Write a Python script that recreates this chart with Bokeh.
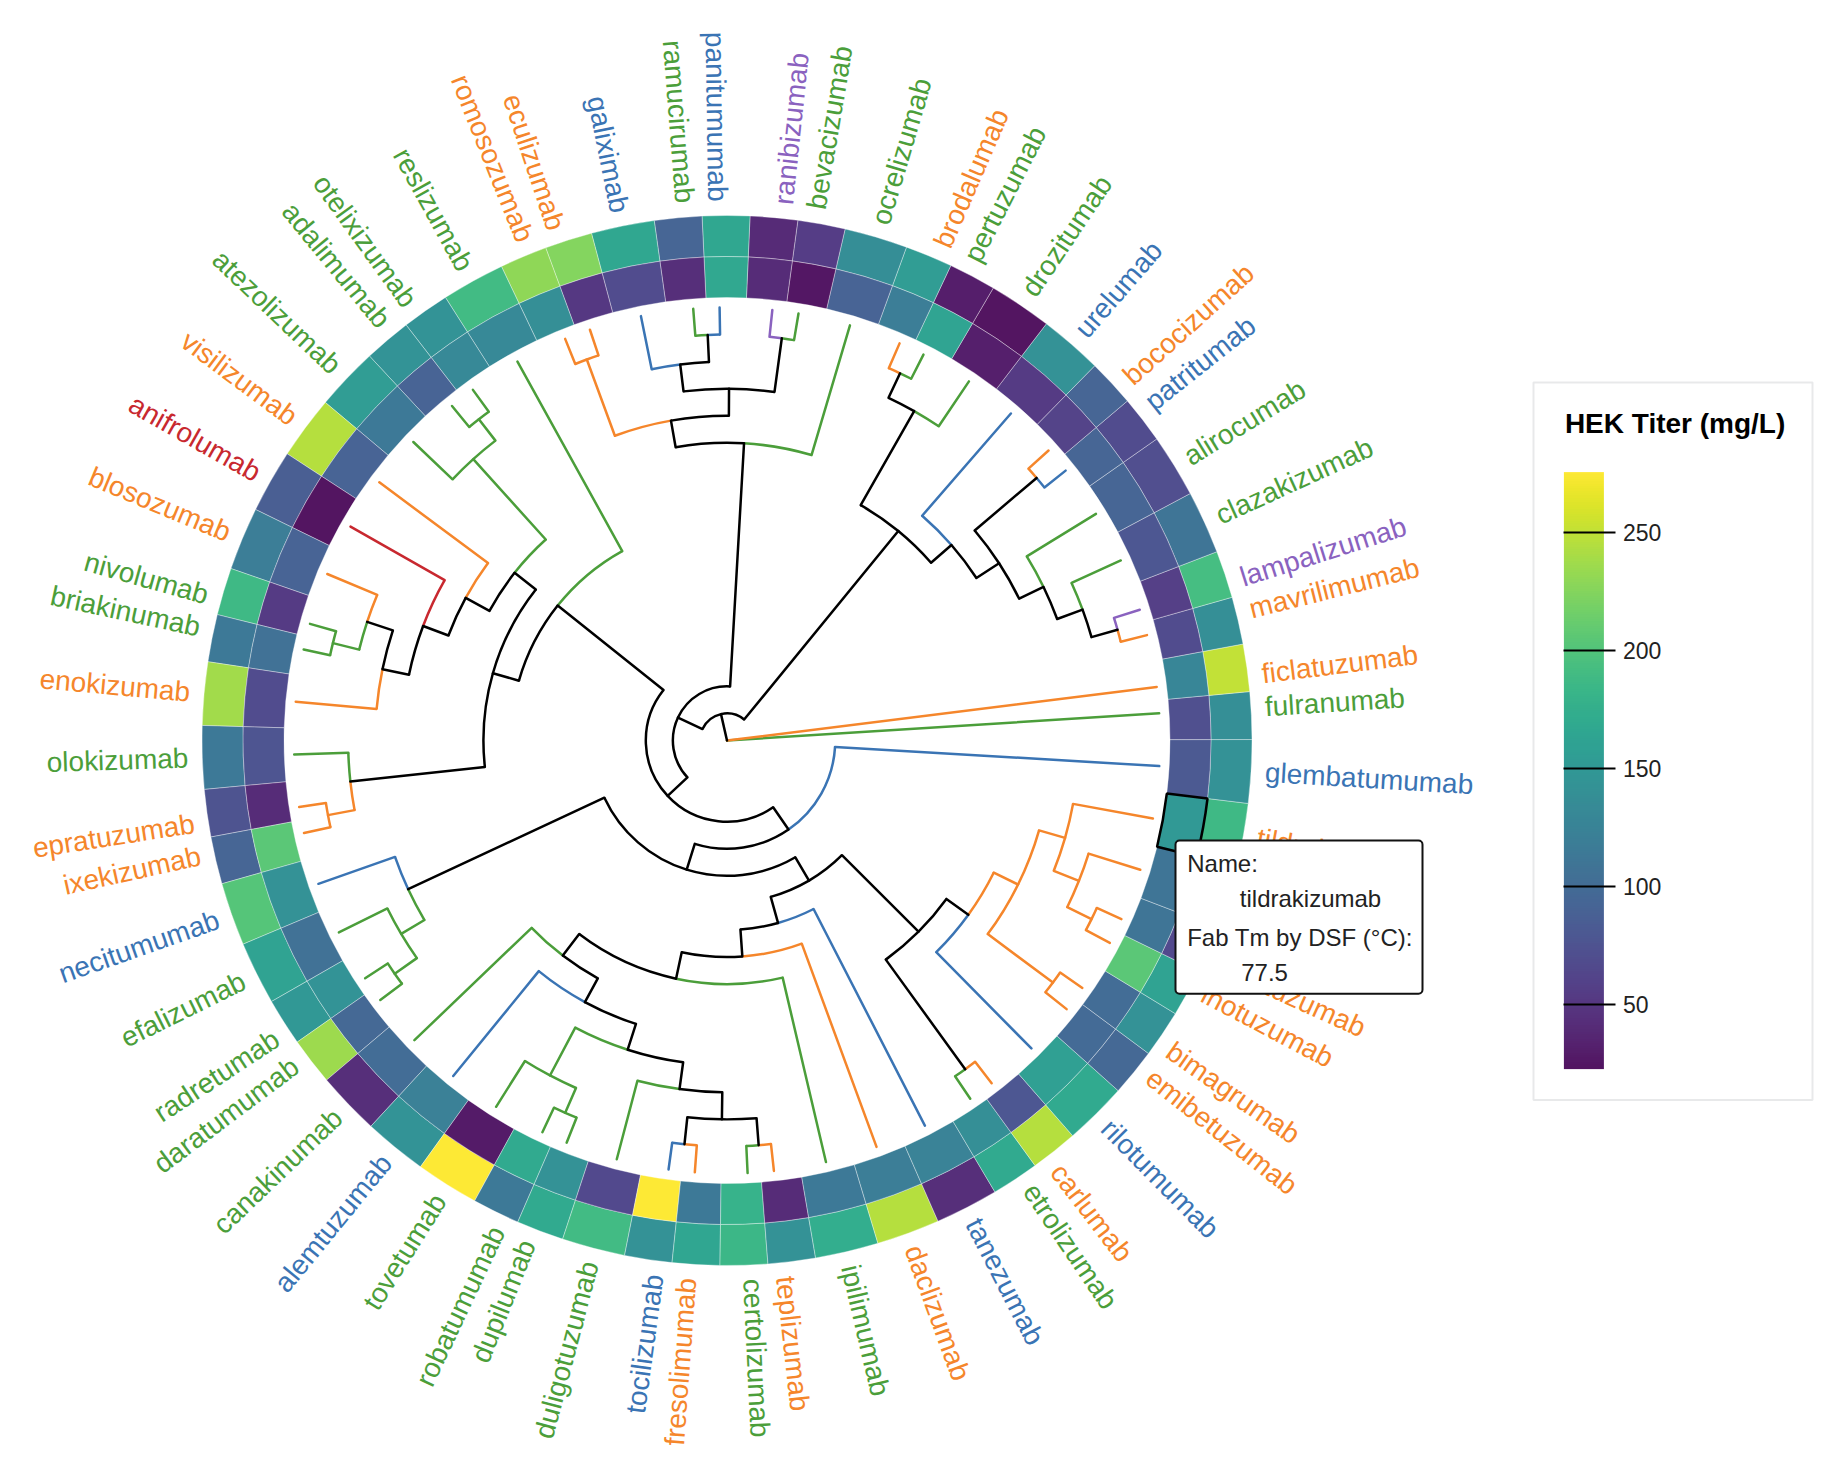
import numpy as np
from bokeh.plotting import figure
from bokeh.models import (Range1d, ColorBar, LinearColorMapper, FixedTicker,
                          BoxAnnotation, Label, ColumnDataSource, HoverTool)
from bokeh.palettes import Viridis256
from bokeh.embed import file_html
from bokeh.resources import INLINE
from bokeh.core.properties import value

# ---------------- data ----------------
LEAF_NAMES = [
    "fulranumab", "ficlatuzumab", "mavrilimumab", "lampalizumab", "clazakizumab",
    "alirocumab", "patritumab", "bococizumab", "urelumab", "drozitumab",
    "pertuzumab", "brodalumab", "ocrelizumab", "bevacizumab", "ranibizumab",
    "panitumumab", "ramucirumab", "galiximab", "eculizumab", "romosozumab",
    "reslizumab", "otelixizumab", "adalimumab", "atezolizumab", "visilizumab",
    "anifrolumab", "blosozumab", "nivolumab", "briakinumab", "enokizumab",
    "olokizumab", "epratuzumab", "ixekizumab", "necitumumab", "efalizumab",
    "radretumab", "daratumumab", "canakinumab", "alemtuzumab", "tovetumab",
    "robatumumab", "dupilumab", "duligotuzumab", "tocilizumab", "fresolimumab",
    "certolizumab", "teplizumab", "ipilimumab", "daclizumab", "tanezumab",
    "etrolizumab", "carlumab", "rilotumumab", "emibetuzumab", "bimagrumab",
    "inotuzumab", "dalotuzumab", "lintuzumab", "tildrakizumab", "glembatumumab",
]

LEAF_GROUPS = [
    "green", "orange", "orange", "purple", "green",
    "green", "blue", "orange", "blue", "green",
    "green", "orange", "green", "green", "purple",
    "blue", "green", "blue", "orange", "orange",
    "green", "green", "green", "green", "orange",
    "red", "orange", "green", "green", "orange",
    "green", "orange", "orange", "blue", "green",
    "green", "green", "green", "blue", "green",
    "green", "green", "green", "blue", "orange",
    "green", "orange", "green", "orange", "blue",
    "green", "orange", "blue", "orange", "orange",
    "orange", "orange", "orange", "orange", "blue",
]

# outer ring: HEK titer (mg/L)
HEK_TITER = [
    139.0, 250.2, 139.0, 192.1, 108.7,
    70.7, 68.2, 93.5, 141.5, 22.7,
    30.3, 154.2, 136.5, 55.6, 40.4,
    166.8, 93.5, 166.8, 224.9, 230.0,
    189.5, 144.0, 144.0, 154.2, 245.2,
    85.9, 118.8, 187.0, 113.7, 237.6,
    113.7, 75.8, 93.5, 202.2, 161.7,
    149.1, 235.1, 42.9, 144.0, 275.5,
    113.7, 169.3, 189.5, 141.5, 164.3,
    184.5, 141.5, 174.4, 245.2, 42.9,
    169.3, 245.2, 169.3, 96.0, 141.5,
    161.7, 65.7, 98.5, 187.0, 141.5,
]

# inner ring: Fab Tm by DSF (deg C)
FAB_TM = [
    66.7, 74.7, 66.3, 64.9, 67.7,
    69.8, 69.8, 65.3, 64.2, 61.1,
    79.3, 73.3, 69.5, 60.4, 62.5,
    80.0, 62.8, 66.3, 63.9, 76.1,
    75.1, 75.1, 69.5, 72.6, 69.5,
    60.0, 69.5, 64.2, 71.6, 66.3,
    67.4, 62.5, 85.2, 76.5, 71.6,
    76.8, 70.2, 70.9, 73.7, 60.7,
    80.3, 76.5, 66.0, 95.0, 72.6,
    81.7, 62.5, 72.6, 73.3, 74.0,
    76.1, 67.7, 78.6, 70.5, 70.9,
    85.2, 71.9, 71.9, 77.5, 68.1,
]

COLORBAR_TICKS = [50, 100, 150, 200, 250]

# dendrogram topology (children listed counter-clockwise)
LM = ("mavrilimumab", "lampalizumab")
U6 = (LM, "clazakizumab")
U5 = (U6, "alirocumab")
BOPA = ("patritumab", "bococizumab")
U3 = (U5, BOPA)
U2 = (U3, "urelumab")
BP = ("pertuzumab", "brodalumab")
U1 = ("drozitumab", BP)
U = (U2, U1)
RB = ("bevacizumab", "ranibizumab")
RP = ("panitumumab", "ramucirumab")
T3 = (RP, "galiximab")
T2 = (RB, T3)
RE = ("eculizumab", "romosozumab")
T1 = (T2, RE)
T = ("ocrelizumab", T1)
AO = ("otelixizumab", "adalimumab")
G1 = (AO, "atezolizumab")
BN = ("nivolumab", "briakinumab")
P1 = ("blosozumab", BN)
P2 = (P1, "enokizumab")
P3 = ("anifrolumab", P2)
P4 = ("visilizumab", P3)
P5 = (G1, P4)
EI = ("epratuzumab", "ixekizumab")
Q1 = ("olokizumab", EI)
P6 = (P5, Q1)
P7 = ("reslizumab", P6)
RD = ("radretumab", "daratumumab")
W1B = ("efalizumab", RD)
W1 = ("necitumumab", W1B)
RODU = ("robatumumab", "dupilumab")
W14 = ("tovetumab", RODU)
TOFR = ("tocilizumab", "fresolimumab")
CETE = ("certolizumab", "teplizumab")
W16 = (TOFR, CETE)
W15 = ("duligotuzumab", W16)
W13 = (W14, W15)
W12 = ("alemtuzumab", W13)
W11 = ("canakinumab", W12)
W10 = (W11, "ipilimumab")
W9 = (W10, "daclizumab")
W3 = (W9, "tanezumab")
CE = ("etrolizumab", "carlumab")
BE = ("emibetuzumab", "bimagrumab")
DI = ("inotuzumab", "dalotuzumab")
W8 = (DI, "lintuzumab")
W7 = (W8, "tildrakizumab")
W6 = (BE, W7)
W5 = ("rilotumumab", W6)
W4 = (CE, W5)
W2 = (W3, W4)
WW = (W1, W2)
V = (WW, "glembatumumab")
R1 = (P7, V)
R0 = (T, R1)
S = (U, R0)
TREE = ("fulranumab", "ficlatuzumab", S)

HIGHLIGHT = "tildrakizumab"

GROUP_COLORS = {"green": "#4b9e3a", "orange": "#f5862b", "blue": "#3a74b4",
                "purple": "#8a62bf", "red": "#c8282f"}

# ---------------- layout / style ----------------
W, H = 1820, 1460
CX, CY = 726.5, H - 740.0
R_LEAF = 433.0
R_IN = (443.0, 484.0)
R_OUT = (484.0, 525.0)
R_LABEL = 539.0
START_DEG = 3.6
FONT = "Liberation Sans"
LINE_W = 2.5

# ---------------- tree layout ----------------
leaf_parent = {}
leaf_seen = []


def build(node, parent=None):
    if isinstance(node, str):
        leaf_seen.append(node)
        leaf_parent[node] = parent
        return {"leaf": node, "children": [], "level": 0}
    d = {"leaf": None, "children": []}
    for c in node:
        d["children"].append(build(c, d))
    d["level"] = 1 + max(ch["level"] for ch in d["children"])
    return d


root = build(TREE)
assert leaf_seen == LEAF_NAMES
n_leaf = len(LEAF_NAMES)
gaps = []
for i in range(n_leaf):
    a, b = LEAF_NAMES[i], LEAF_NAMES[(i + 1) % n_leaf]
    same = (i + 1 < n_leaf) and (leaf_parent[a] is leaf_parent[b])
    gaps.append(1 if same else 2)
unit = 360.0 / sum(gaps)
leaf_ang = [START_DEG]
for g in gaps[:-1]:
    leaf_ang.append(leaf_ang[-1] + g * unit)
ang_of = dict(zip(LEAF_NAMES, leaf_ang))
col_of = {n: GROUP_COLORS[g] for n, g in zip(LEAF_NAMES, LEAF_GROUPS)}
ROOT_LEVEL = root["level"]


def finish(d):
    if d["leaf"] is not None:
        d["ang"] = ang_of[d["leaf"]]
        d["color"] = col_of[d["leaf"]]
        d["cols"] = {d["color"]}
    else:
        for c in d["children"]:
            finish(c)
        d["ang"] = 0.5 * (d["children"][0]["ang"] + d["children"][-1]["ang"])
        d["cols"] = set().union(*[c["cols"] for c in d["children"]])
        d["color"] = next(iter(d["cols"])) if len(d["cols"]) == 1 else "black"
    d["r"] = R_LEAF * (1.0 - d["level"] / ROOT_LEVEL)


finish(root)

arcs = dict(r=[], a0=[], a1=[], color=[])
segs = dict(x0=[], y0=[], x1=[], y1=[], color=[])


def pol(r, deg):
    t = np.deg2rad(deg)
    return CX + r * np.cos(t), CY + r * np.sin(t)


def draw(d):
    for c in d["children"]:
        if d["r"] > 0.5:
            lo, hi = sorted([d["ang"], c["ang"]])
            arcs["r"].append(d["r"])
            arcs["a0"].append(np.deg2rad(lo))
            arcs["a1"].append(np.deg2rad(hi))
            arcs["color"].append(c["color"])
        x0, y0 = pol(d["r"], c["ang"])
        x1, y1 = pol(c["r"], c["ang"])
        segs["x0"].append(x0); segs["y0"].append(y0)
        segs["x1"].append(x1); segs["y1"].append(y1)
        segs["color"].append(c["color"])
        draw(c)


draw(root)

# heat-map cell bounds: halfway between neighbouring leaves
starts, ends = [], []
for i in range(n_leaf):
    prev = leaf_ang[i - 1] - (360 if i == 0 else 0)
    nxt = leaf_ang[(i + 1) % n_leaf] + (360 if i == n_leaf - 1 else 0)
    starts.append(np.deg2rad(0.5 * (prev + leaf_ang[i])))
    ends.append(np.deg2rad(0.5 * (leaf_ang[i] + nxt)))

# ---------------- figure ----------------
p = figure(width=W, height=H, x_range=Range1d(0, W), y_range=Range1d(0, H),
           output_backend="svg", toolbar_location=None, min_border=0,
           x_axis_location=None, y_axis_location=None,
           outline_line_color=None, background_fill_color="white",
           border_fill_color="white")
p.grid.visible = False

mapper_out = LinearColorMapper(palette=Viridis256, low=min(HEK_TITER), high=max(HEK_TITER))
mapper_in = LinearColorMapper(palette=Viridis256, low=min(FAB_TM), high=max(FAB_TM))

cells = ColumnDataSource(dict(start=starts, end=ends, titer=HEK_TITER, tm=FAB_TM,
                              name=LEAF_NAMES))
p.annular_wedge(x=CX, y=CY, inner_radius=R_OUT[0], outer_radius=R_OUT[1],
                start_angle="start", end_angle="end", source=cells,
                fill_color={"field": "titer", "transform": mapper_out}, fill_alpha=0.92,
                line_color="white", line_width=0.6, line_alpha=0.6)
inner = p.annular_wedge(x=CX, y=CY, inner_radius=R_IN[0], outer_radius=R_IN[1],
                        start_angle="start", end_angle="end", source=cells,
                        fill_color={"field": "tm", "transform": mapper_in}, fill_alpha=0.92,
                        line_color="white", line_width=0.6, line_alpha=0.6)
p.add_tools(HoverTool(renderers=[inner],
                      tooltips=[("Name", "@name"), ("Fab Tm by DSF (°C)", "@tm")]))

# dendrogram
p.arc(x=CX, y=CY, radius="r", start_angle="a0", end_angle="a1", line_color="color",
      line_width=LINE_W, source=ColumnDataSource(arcs))
p.segment(x0="x0", y0="y0", x1="x1", y1="y1", line_color="color", line_width=LINE_W,
          line_cap="round", source=ColumnDataSource(segs))

# leaf labels
for side in ("right", "left"):
    xs, ys, ts, angs, cs = [], [], [], [], []
    for name, a in zip(LEAF_NAMES, leaf_ang):
        right = np.cos(np.deg2rad(a)) >= 0
        if (side == "right") != right:
            continue
        x, y = pol(R_LABEL, a)
        xs.append(x); ys.append(y); ts.append(name); cs.append(col_of[name])
        angs.append(np.deg2rad(a if right else a - 180))
    p.text(x="x", y="y", text="t", angle="ang", text_color="c",
           source=ColumnDataSource(dict(x=xs, y=ys, t=ts, ang=angs, c=cs)),
           text_font=value(FONT), text_font_size="28px",
           text_align="left" if side == "right" else "right", text_baseline="middle")

# highlighted (hovered) cell
hi = LEAF_NAMES.index(HIGHLIGHT)
p.annular_wedge(x=CX, y=CY, inner_radius=R_IN[0], outer_radius=R_IN[1],
                start_angle=starts[hi], end_angle=ends[hi], fill_color=None,
                line_color="black", line_width=2.5)

# colour bar legend: frame, title, bar
legend_box = BoxAnnotation(left=1533, right=1812, top=H - 382, bottom=H - 1099.6,
                           fill_color="white", fill_alpha=1.0, line_color="#b3b7bb",
                           line_width=2, level="glyph")
p.add_layout(legend_box)
p.add_layout(Label(x=1564.4, y=H - 422.6, text="HEK Titer (mg/L)", text_font=FONT,
                   text_font_size="28px", text_font_style="bold", text_color="black",
                   text_baseline="middle", text_align="left"))
cb = ColorBar(color_mapper=mapper_out, orientation="vertical", width=40, height=597,
              location=(1563.4, H - 1068.6), padding=0,
              ticker=FixedTicker(ticks=COLORBAR_TICKS),
              major_tick_in=40, major_tick_out=12, major_tick_line_color="black",
              major_tick_line_width=2, minor_tick_line_color=None,
              major_label_text_font=FONT, major_label_text_font_size="23px",
              major_label_text_color="#222222", label_standoff=7,
              bar_line_color=None, border_line_color=None,
              background_fill_alpha=0.0, scale_alpha=0.92)
p.add_layout(cb)

# static tooltip for the hovered cell
box = BoxAnnotation(left=1175, right=1422, top=H - 840, bottom=H - 993.3,
                    fill_color="white", fill_alpha=1.0, line_color="#111111",
                    line_width=2, line_alpha=1.0, border_radius=4)
p.add_layout(box)
tip_rows = [("Name:", 1186.7, H - 863.3), (LEAF_NAMES[hi], 1239.3, H - 898.3),
            ("Fab Tm by DSF (°C):", 1186.7, H - 936.7), (f"{FAB_TM[hi]}", 1240.7, H - 971.7)]
for txt, x, y in tip_rows:
    p.add_layout(Label(x=x, y=y, text=txt, text_font=FONT, text_font_size="24px",
                       text_baseline="middle", text_align="left", text_color="#222222"))

open("out.html", "w").write(file_html(p, INLINE, title="Antibody dendrogram"))
